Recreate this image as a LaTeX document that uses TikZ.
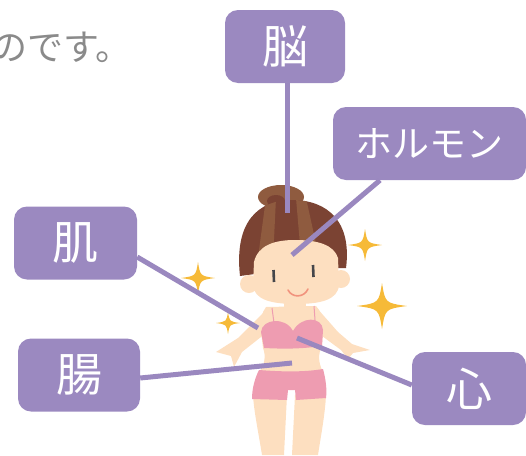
\documentclass[tikz,border=0pt]{standalone}
\usepackage{fontspec}
\newfontfamily\jp{Noto Sans CJK JP}
\definecolor{tagpurple}{HTML}{9B89C0}
\definecolor{linkpurple}{HTML}{9A88BF}
\definecolor{spark}{HTML}{F6BA38}
\definecolor{skin}{HTML}{FDDFC0}
\definecolor{hairdark}{HTML}{7B4333}
\definecolor{hairlight}{HTML}{8F5B3F}
\definecolor{pinkwear}{HTML}{EE9CB1}
\definecolor{greytext}{HTML}{8A8A8A}
\definecolor{eyegrey}{HTML}{45464A}
\definecolor{smile}{HTML}{F1937D}

\begin{document}
\begin{tikzpicture}[x=1pt,y=-1pt,
  tag/.style={fill=tagpurple, rounded corners=13pt, text=white,
    font=\jp\fontsize{46}{50}\selectfont, inner sep=0pt, minimum height=73pt},
  link/.style={draw=linkpurple, line width=5pt},
  sparkle/.pic={\fill[spark] (0,-1) .. controls (0.13,-0.13) .. (1,0)
      .. controls (0.13,0.13) .. (0,1) .. controls (-0.13,0.13) .. (-1,0)
      .. controls (-0.13,-0.13) .. cycle;}
]
\useasboundingbox (0,0) rectangle (526,455);
\clip (0,0) rectangle (526,455);

% leftover end of the sentence above
\node[anchor=east, inner sep=0pt, text=greytext,
  font=\jp\fontsize{36}{40}\selectfont] (tail) at (132,47) {のです。};

% sparkles around the girl
\pic[xscale=17,yscale=16] at (365,245) {sparkle};
\pic[xscale=25,yscale=23] at (382,306) {sparkle};
\pic[xscale=17,yscale=16] at (198,278) {sparkle};
\pic[xscale=12,yscale=11] at (228,323) {sparkle};

% ---- girl ----
% arms
\fill[skin] (266,310) -- (238,338) -- (216,352) -- (231,356) -- (234,367)
  -- (242,352) -- (266,333) -- cycle;
\fill[skin] (316,307) -- (338,332) -- (352,344) -- (370,350) -- (353,353)
  -- (348,359) -- (341,350) -- (318,333) -- cycle;
% legs
\fill[skin] (253,395) -- (287,395) -- (284,455) -- (262,455)
  .. controls (258,430) and (254,412) .. cycle;
\fill[skin] (295,395) -- (326,395) .. controls (325,415) and (321,435) .. (318,455)
  -- (292,455) -- cycle;
% torso
\fill[skin] (266,307) .. controls (262,312) and (260,320) .. (261,332) -- (263,348)
  .. controls (266,356) and (265,364) .. (259,372) -- (323,372)
  .. controls (318,362) and (318,354) .. (322,346) -- (323,330)
  .. controls (324,318) and (320,310) .. (316,306) -- cycle;
\fill[skin] (284,298) rectangle (306,310);
% shorts
\fill[pinkwear] (259,370) .. controls (285,372) and (305,372) .. (323,369)
  .. controls (326,380) and (327,390) .. (326,398) -- (296,400) -- (295,390)
  -- (288,390) -- (287,400) -- (252,399) .. controls (252,388) and (255,378) .. cycle;
% bra
\fill[pinkwear] (261,332) .. controls (262,319) and (285,316) .. (293,331)
  .. controls (301,316) and (322,316) .. (323,330) -- (322,346)
  .. controls (300,349) and (285,349) .. (264,348) -- cycle;
\draw[pinkwear, line width=1pt] (272,308) -- (274,323) (314,306) -- (315,320);
% hair bun
\fill[hairlight] (281,197) ellipse [x radius=23, y radius=12];
\fill[hairdark] (276,201) ellipse [x radius=9, y radius=6];
% hair
\begin{scope}
  \clip (240,276) .. controls (234,222) and (258,200) .. (292,200)
    .. controls (328,200) and (352,222) .. (346,268) -- (300,268) -- cycle;
  \fill[hairdark] (230,190) rectangle (360,280);
  \fill[hairlight] (266,198) -- (276,198) -- (272,280) -- (255,280) -- cycle;
  \fill[hairlight] (296,198) -- (306,198) -- (324,280) -- (303,280) -- cycle;
\end{scope}
% ears
\fill[skin] (249,284) circle (9);
\fill[skin] (341,279) circle (9);
% face
\fill[skin] (254,262) .. controls (258,245) and (275,240) .. (295,240)
  .. controls (318,240) and (334,245) .. (338,258) -- (339,285)
  .. controls (338,300) and (320,304) .. (296,304)
  .. controls (272,304) and (254,300) .. (253,285) -- cycle;
% eyes and smile
\draw[eyegrey, line width=2.6pt] (273.5,270) -- (274,282) (313,265) -- (313.5,277);
\draw[smile, line width=1.6pt, line cap=round] (288,290)
  .. controls (292,298) and (304,298) .. (308,289);

% ---- tags ----
\node[tag, minimum width=120pt] (brain)   at (285,46.5)  {脳};
\node[tag, minimum width=193pt, font=\jp\fontsize{37}{40}\selectfont]
                                 (hormone) at (429.5,143.5) {ホルモン};
\node[tag, minimum width=123pt] (skinbox) at (75.5,243)  {肌};
\node[tag, minimum width=122pt] (gut)     at (79,375)    {腸};
\node[tag, minimum width=114pt] (heart)   at (469,388.5) {心};

% ---- connectors ----
\coordinate (pBrain)   at (287,213);
\coordinate (pHormone) at (292,255);
\coordinate (pSkin)    at (258,328);
\coordinate (pGut)     at (292,363);
\coordinate (pHeart)   at (297,338);

\draw[link] ([xshift=2pt]brain.south) -- (pBrain);
\draw[link] ([xshift=-49.5pt]hormone.south) -- (pHormone);
\draw[link] ([yshift=-14pt]skinbox.east) -- (pSkin);
\draw[link] ([yshift=-3pt]gut.east) -- (pGut);
\draw[link] ([yshift=3.5pt]heart.west) -- (pHeart);
\end{tikzpicture}
\end{document}
